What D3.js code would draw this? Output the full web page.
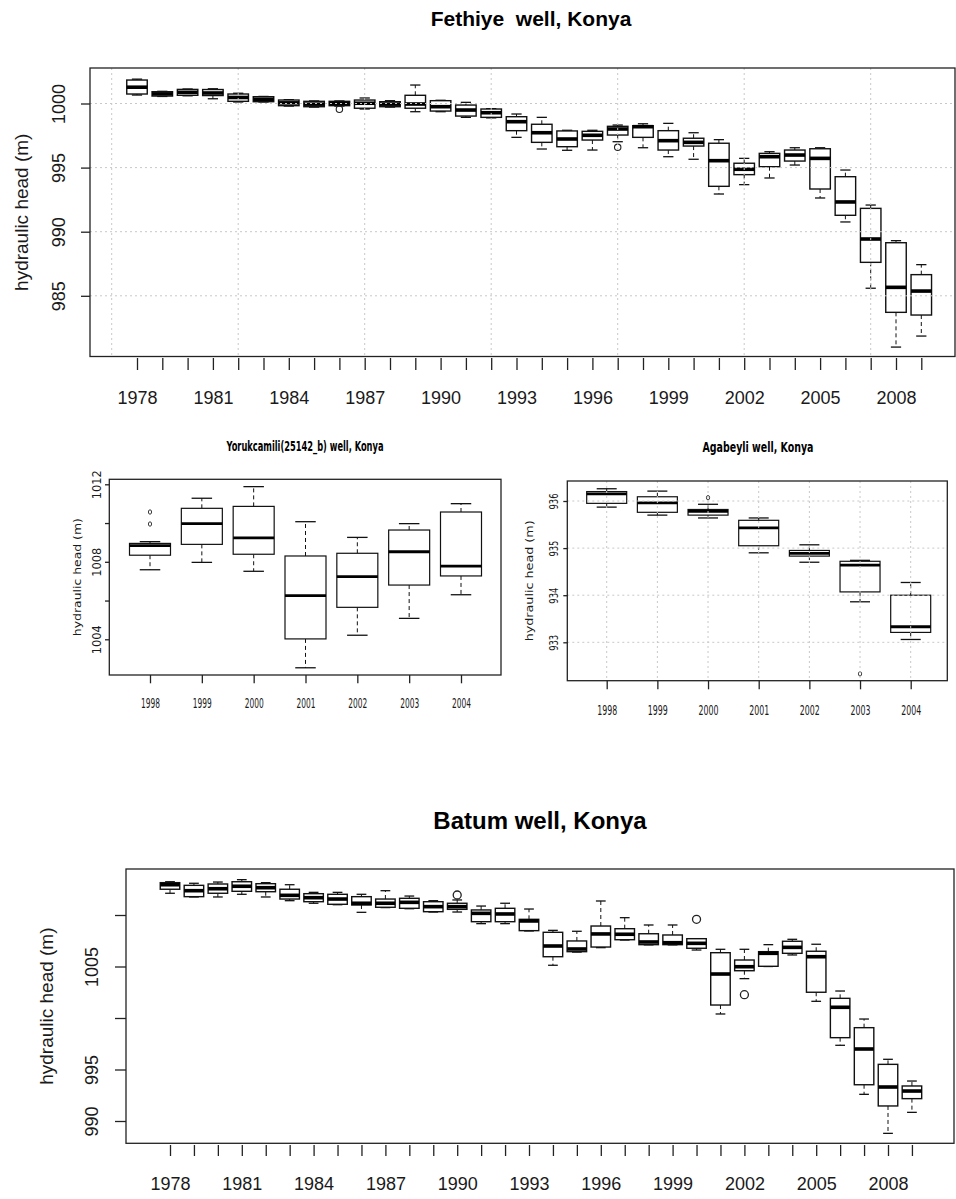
<!DOCTYPE html>
<html>
<head>
<meta charset="utf-8">
<script src="https://cdn.jsdelivr.net/npm/d3@7"></script>
<style>
body { margin: 0; background: #fff; }
svg { display: block; font-family: "Liberation Sans", Arial, sans-serif; }
</style>
</head>
<body>
<div id="chart"></div>
<script>
// ---- Fethiye well (1978-2009) ----
var fethiyeYears = [1978, 1979, 1980, 1981, 1982, 1983, 1984, 1985, 1986, 1987, 1988, 1989, 1990, 1991, 1992, 1993,
    1994, 1995, 1996, 1997, 1998, 1999, 2000, 2001, 2002, 2003, 2004, 2005, 2006, 2007, 2008, 2009];
var fethiyeLow = [1000.66, 1000.55, 1000.60, 1000.37, 1000.12, 1000.12, 999.80, 999.72, 999.80, 999.57, 999.72, 999.36, 999.36, 998.92, 998.88, 997.36,
    996.45, 996.35, 996.37, 997.02, 996.55, 995.85, 995.65, 992.94, 993.67, 994.19, 995.20, 992.63, 990.76, 985.59, 981.00, 981.86];
var fethiyeQ1 = [1000.74, 1000.58, 1000.64, 1000.62, 1000.17, 1000.14, 999.83, 999.75, 999.83, 999.63, 999.75, 999.63, 999.41, 999.02, 998.92, 997.88,
    996.97, 996.63, 997.15, 997.54, 997.36, 996.37, 996.68, 993.54, 994.45, 995.07, 995.51, 993.33, 991.28, 987.61, 983.71, 983.50];
var fethiyeMed = [1001.27, 1000.75, 1000.87, 1000.82, 1000.47, 1000.33, 1000.05, 999.95, 1000.00, 1000.02, 999.95, 999.96, 999.75, 999.49, 999.28, 998.58,
    997.72, 997.23, 997.52, 998.01, 998.19, 997.10, 996.97, 995.54, 994.87, 995.85, 995.98, 995.72, 992.32, 989.43, 985.66, 985.37];
var fethiyeQ3 = [1001.83, 1000.92, 1001.10, 1001.09, 1000.74, 1000.53, 1000.27, 1000.17, 1000.17, 1000.27, 1000.14, 1000.64, 1000.22, 999.88, 999.57, 998.97,
    998.38, 997.86, 997.83, 998.22, 998.27, 997.88, 997.29, 996.90, 995.34, 996.11, 996.37, 996.47, 994.29, 991.82, 989.14, 986.65];
var fethiyeHigh = [1001.90, 1000.95, 1001.13, 1001.15, 1000.80, 1000.55, 1000.30, 1000.20, 1000.20, 1000.43, 1000.22, 1001.44, 1000.25, 1000.09, 999.60, 999.18,
    998.92, 997.91, 997.91, 998.32, 998.42, 998.45, 997.72, 997.18, 995.72, 996.24, 996.55, 996.55, 994.81, 992.08, 989.30, 987.43];
var fethiyeOut = [[1986, 999.55], [1997, 996.58]];
var fethiyeLabelYears = [1978, 1981, 1984, 1987, 1990, 1993, 1996, 1999, 2002, 2005, 2008];
var fethiyeYTicks = [985, 990, 995, 1000];
var fethiyeYLabels = ["985", "990", "995", "1000"];
var fethiyeGridYears = [1977, 1982, 1987, 1992, 1997, 2002, 2007];

// ---- Yorukcamili(25142_b) well (1998-2004) ----
var yorukYears = [1998, 1999, 2000, 2001, 2002, 2003, 2004];
var yorukLow = [1007.59, 1007.97, 1007.51, 1002.53, 1004.21, 1005.08, 1006.30];
var yorukQ1 = [1008.34, 1008.90, 1008.39, 1004.02, 1005.65, 1006.80, 1007.27];
var yorukMed = [1008.83, 1009.97, 1009.23, 1006.25, 1007.23, 1008.52, 1007.78];
var yorukQ3 = [1008.95, 1010.76, 1010.86, 1008.30, 1008.44, 1009.64, 1010.57];
var yorukHigh = [1009.04, 1011.28, 1011.88, 1010.07, 1009.26, 1009.97, 1011.00];
var yorukOut = [[1998, 1010.57], [1998, 1009.95]];
var yorukYTicks = [1004, 1006, 1008, 1010, 1012];
var yorukYLabels = ["1004", "", "1008", "", "1012"];

// ---- Agabeyli well (1998-2004) ----
var agaYears = [1998, 1999, 2000, 2001, 2002, 2003, 2004];
var agaLow = [935.87, 935.70, 935.64, 934.90, 934.70, 933.86, 933.06];
var agaQ1 = [935.95, 935.76, 935.70, 935.05, 934.83, 934.07, 933.21];
var agaMed = [936.15, 935.96, 935.78, 935.43, 934.89, 934.64, 933.33];
var agaQ3 = [936.20, 936.09, 935.82, 935.59, 934.95, 934.72, 934.00];
var agaHigh = [936.26, 936.21, 935.93, 935.64, 935.07, 934.74, 934.27];
var agaOut = [[2000, 936.07], [2003, 932.33]];
var agaYTicks = [933, 934, 935, 936];
var agaYLabels = ["933", "934", "935", "936"];

// ---- Batum well (1978-2009) ----
var batumYears = fethiyeYears;
var batumLow = [1012.11, 1011.75, 1011.75, 1012.01, 1011.75, 1011.39, 1011.14, 1011.00, 1010.26, 1010.72, 1010.61, 1010.29, 1010.29, 1009.16, 1009.16, 1008.45,
    1005.12, 1006.40, 1006.83, 1007.57, 1007.10, 1007.10, 1006.60, 1000.39, 1003.82, 1005.00, 1006.12, 1001.62, 997.35, 992.59, 988.80, 990.84];
var batumQ1 = [1012.50, 1011.78, 1012.11, 1012.30, 1012.26, 1011.55, 1011.29, 1011.04, 1010.97, 1010.75, 1010.65, 1010.32, 1010.55, 1009.35, 1009.35, 1008.48,
    1005.95, 1006.44, 1006.89, 1007.60, 1007.12, 1007.12, 1006.77, 1001.26, 1004.59, 1005.02, 1006.28, 1002.50, 998.09, 993.52, 991.46, 992.17];
var batumMed = [1012.94, 1012.36, 1012.55, 1012.79, 1012.65, 1011.91, 1011.68, 1011.55, 1011.14, 1011.14, 1011.23, 1010.81, 1010.81, 1010.16, 1010.10, 1009.42,
    1006.99, 1006.70, 1008.16, 1008.13, 1007.38, 1007.31, 1007.25, 1004.27, 1004.98, 1006.28, 1006.86, 1005.95, 1001.04, 996.99, 993.30, 992.91];
var batumQ3 = [1013.14, 1012.88, 1013.01, 1013.23, 1013.04, 1012.50, 1012.07, 1012.01, 1011.78, 1011.55, 1011.62, 1011.29, 1011.14, 1010.49, 1010.65, 1009.58,
    1008.32, 1007.48, 1008.93, 1008.67, 1008.18, 1008.06, 1007.70, 1006.34, 1005.63, 1006.44, 1007.45, 1006.48, 1001.91, 999.06, 995.50, 993.40];
var batumHigh = [1013.23, 1013.08, 1013.20, 1013.43, 1013.14, 1012.94, 1012.20, 1012.20, 1012.01, 1012.36, 1011.84, 1011.39, 1011.46, 1010.87, 1011.14, 1010.58,
    1008.51, 1008.42, 1011.36, 1009.74, 1009.03, 1009.03, 1007.70, 1006.67, 1006.67, 1007.12, 1007.64, 1007.16, 1002.62, 999.90, 995.99, 993.88];
var batumOut = [[1990, 1011.94], [2000, 1009.58], [2002, 1002.26]];
var batumYTicks = [990, 995, 1000, 1005, 1010];
var batumYLabels = ["990", "995", "", "1005", ""];

var svg = d3.select("#chart").append("svg")
    .attr("width", 956)
    .attr("height", 1199);

function drawPanel(p) {
    var g = svg.append("g");
    var f = p.frame;
    var x = d3.scaleLinear().domain(p.xDomain).range(p.xRange);
    var y = d3.scaleLinear().domain(p.yDomain).range(p.yRange);
    var half = p.boxW / 2;
    var rows = p.years.map(function (yr, i) {
        return { yr: yr, lo: p.lo[i], q1: p.q1[i], med: p.med[i], q3: p.q3[i], hi: p.hi[i] };
    });

    var box = g.selectAll("g.box").data(rows).join("g")
        .attr("class", "box")
        .attr("transform", function (d) { return "translate(" + x(d.yr) + ",0)"; });
    //Whisker (gestrichelt wie in R)
    box.append("line")
        .attr("y1", function (d) { return y(d.q3); })
        .attr("y2", function (d) { return y(d.hi); })
        .style("stroke", "#111").style("stroke-width", 1).style("stroke-dasharray", "4,3");
    box.append("line")
        .attr("y1", function (d) { return y(d.q1); })
        .attr("y2", function (d) { return y(d.lo); })
        .style("stroke", "#111").style("stroke-width", 1).style("stroke-dasharray", "4,3");
    box.append("line")
        .attr("x1", -half / 2).attr("x2", half / 2)
        .attr("y1", function (d) { return y(d.hi); })
        .attr("y2", function (d) { return y(d.hi); })
        .style("stroke", "#111").style("stroke-width", 1.3);
    box.append("line")
        .attr("x1", -half / 2).attr("x2", half / 2)
        .attr("y1", function (d) { return y(d.lo); })
        .attr("y2", function (d) { return y(d.lo); })
        .style("stroke", "#111").style("stroke-width", 1.3);
    box.append("rect")
        .attr("x", -half)
        .attr("width", p.boxW)
        .attr("y", function (d) { return y(d.q3); })
        .attr("height", function (d) { return Math.max(0.5, y(d.q1) - y(d.q3)); })
        .attr("fill", "#fff")
        .style("stroke", "#111").style("stroke-width", p.boxStroke);
    box.append("line")
        .attr("x1", -half).attr("x2", half)
        .attr("y1", function (d) { return y(d.med); })
        .attr("y2", function (d) { return y(d.med); })
        .style("stroke", "#000").style("stroke-width", p.medStroke);

    g.selectAll("ellipse.out").data(p.out).join("ellipse")
        .attr("class", "out")
        .attr("cx", function (d) { return x(d[0]); })
        .attr("cy", function (d) { return y(d[1]); })
        .attr("rx", p.outR[0]).attr("ry", p.outR[1])
        .attr("fill", "none")
        .style("stroke", "#222").style("stroke-width", p.outStroke);

    //Gitter (nach den Boxen, wie grid() in R)
    if (p.gridY) {
        g.selectAll("line.gy").data(p.gridY).join("line")
            .attr("x1", f.x0).attr("x2", f.x1)
            .attr("y1", function (d) { return y(d); })
            .attr("y2", function (d) { return y(d); })
            .style("stroke", "#c8c8c8").style("stroke-width", 1).style("stroke-dasharray", "2,3");
    }
    if (p.gridX) {
        g.selectAll("line.gx").data(p.gridX).join("line")
            .attr("y1", f.y0).attr("y2", f.y1)
            .attr("x1", function (d) { return x(d); })
            .attr("x2", function (d) { return x(d); })
            .style("stroke", "#c8c8c8").style("stroke-width", 1).style("stroke-dasharray", "2,3");
    }

    g.append("rect")
        .attr("x", f.x0).attr("y", f.y0)
        .attr("width", f.x1 - f.x0).attr("height", f.y1 - f.y0)
        .attr("fill", "none")
        .style("stroke", "#222").style("stroke-width", 1.3);

    //x-Achse
    var xa = g.append("g")
        .attr("transform", "translate(0," + p.xAxisY + ")")
        .call(d3.axisBottom(x).tickValues(p.years).tickSize(p.xTickLen).tickPadding(p.xPad)
            .tickFormat(function (d) { return p.xLabels.indexOf(d) >= 0 ? String(d) : ""; }));
    xa.select(".domain").remove();
    xa.selectAll("line").style("stroke", "#222").style("stroke-width", 1.3);
    var xt = xa.selectAll("text")
        .attr("font-family", p.font)
        .attr("font-size", p.xFont)
        .attr("fill", "#1a1a1a");
    if (p.xTextLen) {
        xt.filter(function (d) { return p.xLabels.indexOf(d) >= 0; })
            .attr("textLength", p.xTextLen).attr("lengthAdjust", "spacingAndGlyphs");
    }

    //y-Achse mit gedrehten Beschriftungen
    var ya = g.append("g")
        .attr("transform", "translate(" + f.x0 + ",0)")
        .call(d3.axisLeft(y).tickValues(p.yTicks).tickSize(p.yTickLen)
            .tickFormat(function (d, i) { return p.yLabels[i]; }));
    ya.select(".domain").remove();
    ya.selectAll("line").style("stroke", "#222").style("stroke-width", 1.3);
    var yt = ya.selectAll("text")
        .attr("x", null)
        .attr("dy", "0.35em")
        .attr("text-anchor", "middle")
        .attr("transform", "translate(" + (-p.yLabelOff) + ",0) rotate(-90)")
        .attr("font-family", p.font)
        .attr("font-size", p.yFont)
        .attr("fill", "#1a1a1a");
    if (p.yTextLen) {
        yt.filter(function (d, i) { return p.yLabels[i] !== ""; })
            .attr("textLength", p.yTextLen).attr("lengthAdjust", "spacingAndGlyphs");
    }

    var yTitle = g.append("text")
        .attr("transform", "translate(" + p.yTitleX + "," + ((f.y0 + f.y1) / 2) + ") rotate(-90)")
        .attr("dy", "0.35em")
        .attr("text-anchor", "middle")
        .attr("font-family", p.font)
        .attr("font-size", p.yTitleFont)
        .attr("fill", "#1a1a1a")
        .text("hydraulic head (m)");
    if (p.yTitleLen) {
        yTitle.attr("textLength", p.yTitleLen).attr("lengthAdjust", "spacingAndGlyphs");
    }

    var title = g.append("text")
        .attr("x", p.titleX).attr("y", p.titleY)
        .attr("text-anchor", "middle")
        .attr("font-family", p.font)
        .attr("font-weight", "bold")
        .attr("font-size", p.titleFont)
        .style("white-space", "pre")
        .text(p.title);
    if (p.titleLen) {
        title.attr("textLength", p.titleLen).attr("lengthAdjust", "spacingAndGlyphs");
    }
}

var narrow = "'Liberation Sans Narrow', 'DejaVu Sans Condensed', 'Liberation Sans', sans-serif";
var normal = "'Liberation Sans', Arial, sans-serif";

drawPanel({
    title: "Fethiye  well, Konya", titleX: 531, titleY: 26, titleFont: 21, font: normal,
    frame: { x0: 90, x1: 955, y0: 68, y1: 356.5 },
    years: fethiyeYears, lo: fethiyeLow, q1: fethiyeQ1, med: fethiyeMed, q3: fethiyeQ3, hi: fethiyeHigh, out: fethiyeOut,
    xDomain: [1978, 2009], xRange: [137, 921.3],
    yDomain: [985, 1000], yRange: [295.8, 103.5],
    boxW: 20.5, boxStroke: 1.4, medStroke: 3.6, outR: [3.2, 3.2], outStroke: 1.1,
    gridY: fethiyeYTicks, gridX: fethiyeGridYears,
    xAxisY: 358, xTickLen: 12, xPad: 21, xFont: 18, xLabels: fethiyeLabelYears,
    yTicks: fethiyeYTicks, yLabels: fethiyeYLabels, yTickLen: 9, yLabelOff: 31, yFont: 18,
    yTitleX: 21, yTitleFont: 19
});

drawPanel({
    title: "Yorukcamili(25142_b) well, Konya", titleX: 305, titleY: 451, titleFont: 14, titleLen: 157, font: narrow,
    frame: { x0: 109.3, x1: 501, y0: 479.3, y1: 675 },
    years: yorukYears, lo: yorukLow, q1: yorukQ1, med: yorukMed, q3: yorukQ3, hi: yorukHigh, out: yorukOut,
    xDomain: [1998, 2004], xRange: [150, 461],
    yDomain: [1004, 1012], yRange: [639.3, 484.3],
    boxW: 41, boxStroke: 1.2, medStroke: 2.8, outR: [1.6, 2.2], outStroke: 0.9,
    xAxisY: 675, xTickLen: 8.3, xPad: 15, xFont: 14, xTextLen: 19, xLabels: yorukYears,
    yTicks: yorukYTicks, yLabels: yorukYLabels, yTickLen: 4.3, yLabelOff: 12.6, yFont: 12, yTextLen: 29,
    yTitleX: 77, yTitleFont: 10.5, yTitleLen: 118
});

drawPanel({
    title: "Agabeyli well, Konya", titleX: 758, titleY: 452, titleFont: 14, titleLen: 111, font: narrow,
    frame: { x0: 567.3, x1: 947.3, y0: 481, y1: 680.7 },
    years: agaYears, lo: agaLow, q1: agaQ1, med: agaMed, q3: agaQ3, hi: agaHigh, out: agaOut,
    xDomain: [1998, 2004], xRange: [606.7, 910.7],
    yDomain: [933, 936], yRange: [642.3, 501],
    boxW: 40, boxStroke: 1.2, medStroke: 2.8, outR: [1.6, 2.2], outStroke: 0.9,
    gridY: agaYTicks, gridX: agaYears,
    xAxisY: 680.7, xTickLen: 8.6, xPad: 15.5, xFont: 14, xTextLen: 20, xLabels: agaYears,
    yTicks: agaYTicks, yLabels: agaYLabels, yTickLen: 4, yLabelOff: 14, yFont: 12, yTextLen: 16,
    yTitleX: 529.3, yTitleFont: 10.5, yTitleLen: 121
});

drawPanel({
    title: "Batum well, Konya", titleX: 540, titleY: 829, titleFont: 24, font: normal,
    frame: { x0: 126, x1: 954, y0: 869, y1: 1143.3 },
    years: batumYears, lo: batumLow, q1: batumQ1, med: batumMed, q3: batumQ3, hi: batumHigh, out: batumOut,
    xDomain: [1978, 2008], xRange: [170, 888],
    yDomain: [990, 1010], yRange: [1121, 915],
    boxW: 19.5, boxStroke: 1.4, medStroke: 3.6, outR: [4, 4], outStroke: 1.3,
    xAxisY: 1145, xTickLen: 11, xPad: 21, xFont: 18, xLabels: fethiyeLabelYears,
    yTicks: batumYTicks, yLabels: batumYLabels, yTickLen: 11, yLabelOff: 34, yFont: 18,
    yTitleX: 46, yTitleFont: 19
});
</script>
</body>
</html>
